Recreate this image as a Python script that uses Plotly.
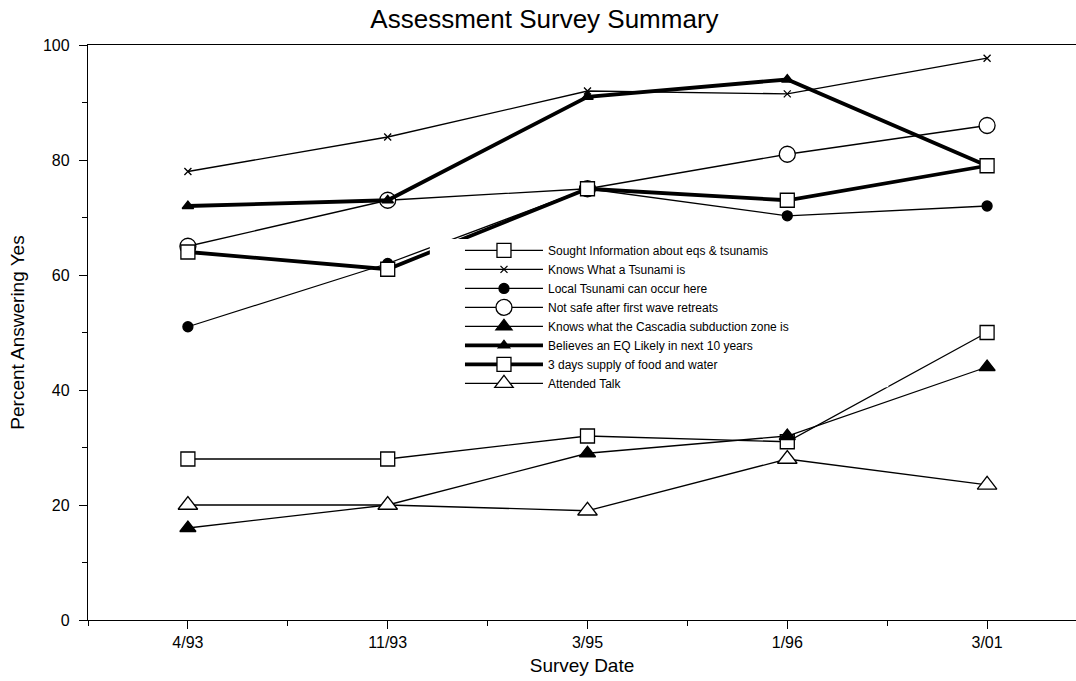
import plotly.graph_objects as go

dates = ["4/93", "11/93", "3/95", "1/96", "3/01"]
xpos = [0, 1, 2, 3, 4]

sought = [28, 28, 32, 31, 50]
knows_tsunami = [78, 84, 92, 91.5, 97.7]
local_tsunami = [51, 62, 75, 70.3, 72]
not_safe = [65, 73, 75, 81, 86]
cascadia = [16, 20, 29, 32, 44]
believes_eq = [72, 73, 91, 94, 79]
three_days = [64, 61, 75, 73, 79]
attended = [20, 20, 19, 28, 23.5]

names = [
    "Sought Information about eqs & tsunamis",
    "Knows What a Tsunami is",
    "Local Tsunami can occur here",
    "Not safe after first wave retreats",
    "Knows what the Cascadia subduction zone is",
    "Believes an EQ Likely in next 10 years",
    "3 days supply of food and water",
    "Attended Talk",
]
series = [sought, knows_tsunami, local_tsunami, not_safe, cascadia, believes_eq, three_days, attended]
styles = [
    dict(symbol="square", size=14, color="white", lw=1.3),
    dict(symbol="x-thin", size=7, color="black", lw=1.3),
    dict(symbol="circle", size=10, color="black", lw=1.3),
    dict(symbol="circle", size=16, color="white", lw=1.3),
    dict(symbol="triangle-up", size=14, color="black", lw=1.3),
    dict(symbol="triangle-up", size=10, color="black", lw=3.8),
    dict(symbol="square", size=14, color="white", lw=3.8),
    dict(symbol="triangle-up", size=17, color="white", lw=1.3),
]

fig = go.Figure()
for name, vals, st in zip(names, series, styles):
    fig.add_trace(go.Scatter(
        x=xpos, y=vals, name=name, mode="lines+markers",
        line=dict(color="black", width=st["lw"]),
        marker=dict(symbol=st["symbol"], size=st["size"], color=st["color"],
                    line=dict(color="black", width=1.3)),
        cliponaxis=False,
    ))

# white backing box behind the legend (occludes the lines like the original)
fig.add_shape(type="rect", xref="paper", yref="paper",
              x0=0.346, x1=0.81, y0=0.405, y1=0.6626,
              fillcolor="white", line=dict(width=0), layer="above")

font = "Arial, Liberation Sans, sans-serif"
fig.update_layout(
    width=1076, height=681,
    paper_bgcolor="white", plot_bgcolor="white",
    margin=dict(l=88, r=0, t=45, b=61, autoexpand=False),
    font=dict(family=font, color="black", size=16),
    title=dict(text="Assessment Survey Summary", x=0.506, xanchor="center", y=0.972, yanchor="middle",
               font=dict(size=26, family=font, color="black")),
    showlegend=True,
    legend=dict(x=0.3765, y=0.668, xanchor="left", yanchor="top", bgcolor="rgba(255,255,255,0)",
                borderwidth=0, font=dict(size=12, family=font), itemwidth=78,
                tracegroupgap=0),
    xaxis=dict(range=[-0.5, 4.445], tickmode="array", tickvals=xpos, ticktext=dates,
               showline=True, linecolor="black", linewidth=1.3, mirror=True, automargin=False,
               ticks="outside", ticklen=8, tickcolor="black", showgrid=False, zeroline=False,
               minor=dict(tickmode="array", tickvals=[-0.5, 0.5, 1.5, 2.5, 3.5], ticks="outside",
                          ticklen=5, tickcolor="black", showgrid=False),
               title=dict(text="Survey Date", font=dict(size=19), standoff=8),
               tickfont=dict(size=16)),
    yaxis=dict(range=[0, 100], tickvals=[0, 20, 40, 60, 80, 100], automargin=False,
               showline=True, linecolor="black", linewidth=1.3, ticklabelstandoff=6,
               ticks="outside", ticklen=8, tickcolor="black", showgrid=False, zeroline=False,
               minor=dict(tickmode="array", tickvals=[10, 30, 50, 70, 90], ticks="outside",
                          ticklen=5, tickcolor="black", showgrid=False),
               title=dict(text="Percent Answering Yes", font=dict(size=19), standoff=13),
               tickfont=dict(size=16)),
)

fig.write_html("out.html", config={"displayModeBar": False},
               post_script="document.body.style.margin='0px';document.body.style.overflow='hidden';")
